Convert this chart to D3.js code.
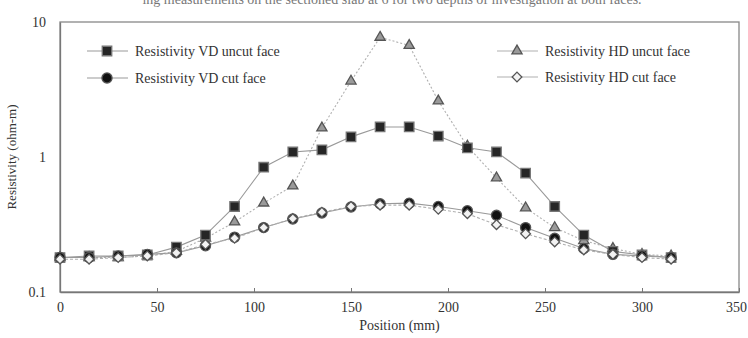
<!DOCTYPE html>
<html>
<head>
<meta charset="utf-8">
<script src="https://cdn.jsdelivr.net/npm/d3@7"></script>
<style>
  body { margin: 0; background: #fff; }
  text { font-family: "Liberation Serif", "DejaVu Serif", serif; fill: #333; }
</style>
</head>
<body>
<div id="chart"></div>
<script>
var positions = [0, 15, 30, 45, 60, 75, 90, 105, 120, 135, 150, 165, 180, 195, 210, 225, 240, 255, 270, 285, 300, 315];
var vdUncut = [0.18, 0.185, 0.185, 0.188, 0.215, 0.264, 0.43, 0.84, 1.09, 1.13, 1.41, 1.67, 1.67, 1.43, 1.17, 1.09, 0.76, 0.43, 0.264, 0.20, 0.188, 0.18];
var vdCut = [0.18, 0.18, 0.185, 0.19, 0.195, 0.22, 0.255, 0.30, 0.347, 0.385, 0.426, 0.45, 0.455, 0.43, 0.40, 0.37, 0.30, 0.25, 0.21, 0.19, 0.185, 0.18];
var hdUncut = [0.18, 0.18, 0.18, 0.185, 0.20, 0.25, 0.33, 0.456, 0.61, 1.64, 3.65, 7.7, 6.7, 2.6, 1.2, 0.70, 0.42, 0.30, 0.24, 0.21, 0.19, 0.185];
var hdCut = [0.175, 0.175, 0.18, 0.185, 0.195, 0.225, 0.25, 0.30, 0.35, 0.39, 0.43, 0.44, 0.44, 0.41, 0.38, 0.315, 0.27, 0.235, 0.205, 0.19, 0.18, 0.175];
var xTicks = [0, 50, 100, 150, 200, 250, 300, 350];
var yTicks = [0.1, 1, 10];

var w = 748, h = 338;
var svg = d3.select("#chart").append("svg").attr("width", w).attr("height", h);

var x = d3.scaleLinear().domain([0, 350]).range([60, 739]);
var y = d3.scaleLog().domain([0.1, 10]).range([292, 22]);

// caption cut off at top of the scan
svg.append("text")
  .attr("x", 392).attr("y", 4)
  .attr("text-anchor", "middle")
  .style("font-size", "14px").style("fill", "#777")
  .text("ing measurements on the sectioned slab at 6 for two depths of investigation at both faces.");

// frame
svg.append("rect")
  .attr("x", x(0)).attr("y", y(10))
  .attr("width", x(350) - x(0)).attr("height", y(0.1) - y(10))
  .attr("fill", "none").attr("stroke", "#888").attr("stroke-width", 1.3);

var xAxis = svg.append("g")
  .attr("transform", "translate(0," + y(0.1) + ")")
  .call(d3.axisBottom(x).tickValues(xTicks).tickSizeInner(-4).tickSizeOuter(0).tickPadding(10));
var yAxis = svg.append("g")
  .attr("transform", "translate(" + x(0) + ",0)")
  .call(d3.axisLeft(y).tickValues(yTicks).tickFormat(d3.format("")).tickSizeInner(0).tickSizeOuter(0).tickPadding(14));
[xAxis, yAxis].forEach(function(g) {
  g.select(".domain").attr("stroke", "#777").attr("stroke-width", 1.3);
  g.selectAll(".tick line").attr("stroke", "#777");
  g.selectAll("text").style("font-size", "14px").style("font-family", "'Liberation Serif', serif").attr("fill", "#444");
});
xAxis.selectAll(".tick text").filter(function(d) { return d === 350; }).attr("dx", -3);

svg.append("text")
  .attr("x", x(175)).attr("y", 330)
  .attr("text-anchor", "middle").style("font-size", "14px")
  .text("Position (mm)");
svg.append("text")
  .attr("transform", "translate(16," + y(1) + ") rotate(-90)")
  .attr("text-anchor", "middle").style("font-size", "13px")
  .text("Resistivity (ohm-m)");

var seriesList = [
  { name: "Resistivity HD uncut face", values: hdUncut, shape: d3.symbolTriangle, size: 45, fill: "#9a9a9a", stroke: "#555", line: "#b0b0b0", dash: "2,2" },
  { name: "Resistivity VD uncut face", values: vdUncut, shape: d3.symbolSquare, size: 90, fill: "#262626", stroke: "#777", line: "#999", dash: null },
  { name: "Resistivity VD cut face", values: vdCut, shape: d3.symbolCircle, size: 80, fill: "#111", stroke: "#555", line: "#999", dash: null },
  { name: "Resistivity HD cut face", values: hdCut, shape: d3.symbolDiamond2, size: 60, fill: "#f2f2f2", stroke: "#555", line: "#b0b0b0", dash: "3,2" }
];

var line = d3.line()
  .x(function(d) { return x(d.x); })
  .y(function(d) { return y(d.v); });

seriesList.forEach(function(s) {
  var pts = positions.map(function(p, i) { return { x: p, v: s.values[i] }; });
  svg.append("path")
    .datum(pts)
    .attr("d", line)
    .attr("fill", "none")
    .attr("stroke", s.line)
    .attr("stroke-width", 1.1)
    .attr("stroke-dasharray", s.dash);
});
seriesList.forEach(function(s) {
  var pts = positions.map(function(p, i) { return { x: p, v: s.values[i] }; });
  svg.selectAll(null)
    .data(pts)
    .enter()
    .append("path")
    .attr("d", d3.symbol().type(s.shape).size(s.size))
    .attr("transform", function(d) { return "translate(" + x(d.x) + "," + y(d.v) + ")"; })
    .attr("fill", s.fill)
    .attr("stroke", s.stroke)
    .attr("stroke-width", 1.3);
});

// legend
var legendItems = [
  { s: seriesList[1], lx: 87, ly: 51 },
  { s: seriesList[2], lx: 87, ly: 78 },
  { s: seriesList[0], lx: 497, ly: 51 },
  { s: seriesList[3], lx: 497, ly: 77 }
];
legendItems.forEach(function(it) {
  var g = svg.append("g").attr("transform", "translate(" + it.lx + "," + it.ly + ")");
  g.append("line").attr("x1", 0).attr("x2", 41).attr("y1", 0).attr("y2", 0)
    .attr("stroke", it.s.line).attr("stroke-width", 1.1);
  g.append("path")
    .attr("d", d3.symbol().type(it.s.shape).size(it.s.size))
    .attr("transform", "translate(20,0)")
    .attr("fill", it.s.fill).attr("stroke", it.s.stroke).attr("stroke-width", 1.3);
  g.append("text").attr("x", 48).attr("y", 5)
    .style("font-size", "14px")
    .text(it.s.name);
});
</script>
</body>
</html>
